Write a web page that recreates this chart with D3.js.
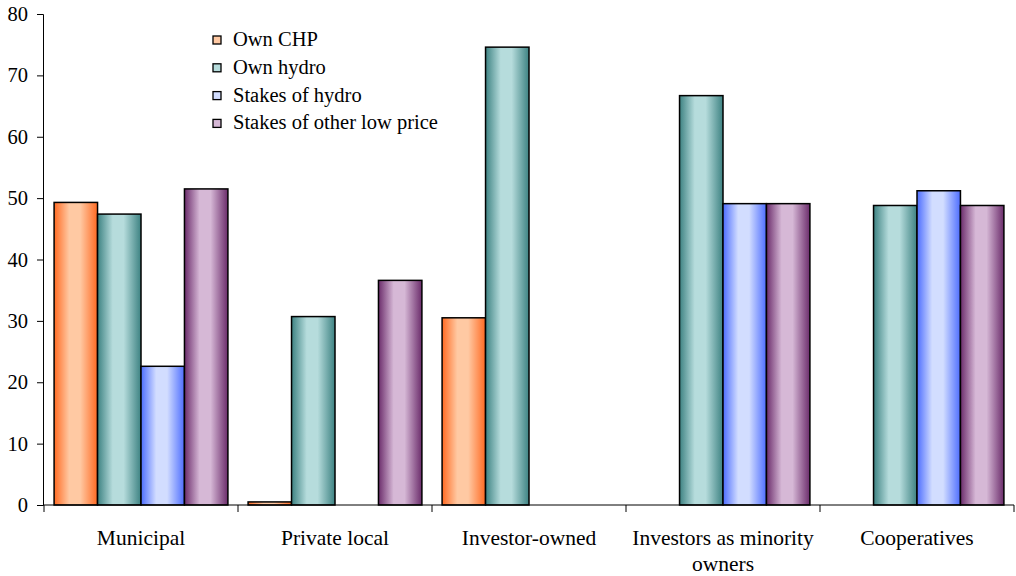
<!DOCTYPE html>
<html>
<head>
<meta charset="utf-8">
<script src="https://cdn.jsdelivr.net/npm/d3@7"></script>
<style>
  html, body { margin: 0; padding: 0; background: #fff; }
  svg { display: block; }
</style>
</head>
<body>
<svg id="chart" width="1016" height="576"></svg>
<script>
const categories = ["Municipal", "Private local", "Investor-owned", "Investors as minority owners", "Cooperatives"];
const categoryLabelLines = [["Municipal"], ["Private local"], ["Investor-owned"], ["Investors as minority", "owners"], ["Cooperatives"]];
const seriesNames = ["Own CHP", "Own hydro", "Stakes of hydro", "Stakes of other low price"];
const ownCHP        = [49.3, 0.5, 30.5, null, null];
const ownHydro      = [47.4, 30.7, 74.6, 66.7, 48.8];
const stakesHydro   = [22.6, null, null, 49.1, 51.2];
const stakesOther   = [51.5, 36.6, null, 49.1, 48.8];
const yTicks = [0, 10, 20, 30, 40, 50, 60, 70, 80];

const FONT = "'Liberation Serif', 'DejaVu Serif', serif";
const seriesValues = [ownCHP, ownHydro, stakesHydro, stakesOther];
const seriesColors = [
  { dark: "#ff6a22", light: "#ffc9a3" },
  { dark: "#3d8282", light: "#b6dcdc" },
  { dark: "#4d6dff", light: "#d2ddff" },
  { dark: "#6b2c6b", light: "#d6b8d6" }
];

const svg = d3.select("#chart");
const defs = svg.append("defs");
seriesColors.forEach((c, i) => {
  const g = defs.append("linearGradient").attr("id", "grad" + i)
    .attr("x1", "0%").attr("x2", "100%").attr("y1", "0%").attr("y2", "0%");
  g.append("stop").attr("offset", "0%").attr("stop-color", c.dark);
  g.append("stop").attr("offset", "35%").attr("stop-color", c.light);
  g.append("stop").attr("offset", "60%").attr("stop-color", c.light);
  g.append("stop").attr("offset", "100%").attr("stop-color", c.dark);
});

const x0 = d3.scaleBand().domain(categories).range([44, 1014]).paddingInner(0).paddingOuter(0);
const bw = x0.bandwidth();
const pad = bw * 0.052;
const x1 = d3.scaleBand().domain(seriesNames).range([pad, bw - pad]).padding(0);
const y = d3.scaleLinear().domain([0, 80]).range([505, 14]);

// bars
const barData = [];
categories.forEach((cat, ci) => {
  seriesNames.forEach((s, si) => {
    const v = seriesValues[si][ci];
    if (v !== null && v !== undefined) barData.push({ cat, s, si, v });
  });
});
svg.append("g").selectAll("rect").data(barData).enter().append("rect")
  .attr("x", d => x0(d.cat) + x1(d.s))
  .attr("y", d => y(d.v))
  .attr("width", x1.bandwidth())
  .attr("height", d => y(0) - y(d.v))
  .attr("fill", d => `url(#grad${d.si})`)
  .attr("stroke", "#000")
  .attr("stroke-width", 1.5);

// y axis
const yAxis = svg.append("g").attr("transform", "translate(43,0)")
  .call(d3.axisLeft(y).tickValues(yTicks).tickSize(6).tickPadding(9).tickFormat(d3.format("d")));
yAxis.attr("font-family", null).attr("font-size", null);
yAxis.select(".domain").attr("stroke", "#000");
yAxis.selectAll(".tick line").attr("stroke", "#000");
yAxis.selectAll("text").style("font-size", "20.5px").style("font-family", FONT).attr("fill", "#000");

// x axis
const xg = svg.append("g");
xg.append("line").attr("x1", 43).attr("x2", 1014).attr("y1", y(0)).attr("y2", y(0)).attr("stroke", "#000");
const bounds = categories.map(c => x0(c)).concat([x0(categories[categories.length - 1]) + bw]);
xg.selectAll("line.xt").data(bounds).enter().append("line").attr("class", "xt")
  .attr("x1", d => d).attr("x2", d => d).attr("y1", y(0)).attr("y2", y(0) + 7).attr("stroke", "#000");
categories.forEach((cat, ci) => {
  const t = xg.append("text").attr("text-anchor", "middle")
    .style("font-size", "21.5px").style("font-family", FONT)
    .attr("x", x0(cat) + bw / 2).attr("y", 545);
  categoryLabelLines[ci].forEach((line, li) => {
    t.append("tspan").attr("x", x0(cat) + bw / 2).attr("dy", li === 0 ? 0 : 26).text(line);
  });
});

// legend
const lg = svg.append("g").attr("transform", "translate(213,36)");
seriesNames.forEach((s, i) => {
  const row = lg.append("g").attr("transform", `translate(0,${i * 27.8})`);
  row.append("rect").attr("x", 0).attr("y", 0).attr("width", 8).attr("height", 8)
    .attr("fill", seriesColors[i].light).attr("stroke", "#000").attr("stroke-width", 1.3);
  row.append("text").attr("x", 20).attr("y", 10)
    .style("font-size", "20.5px").style("font-family", FONT).text(s);
});
</script>
</body>
</html>
